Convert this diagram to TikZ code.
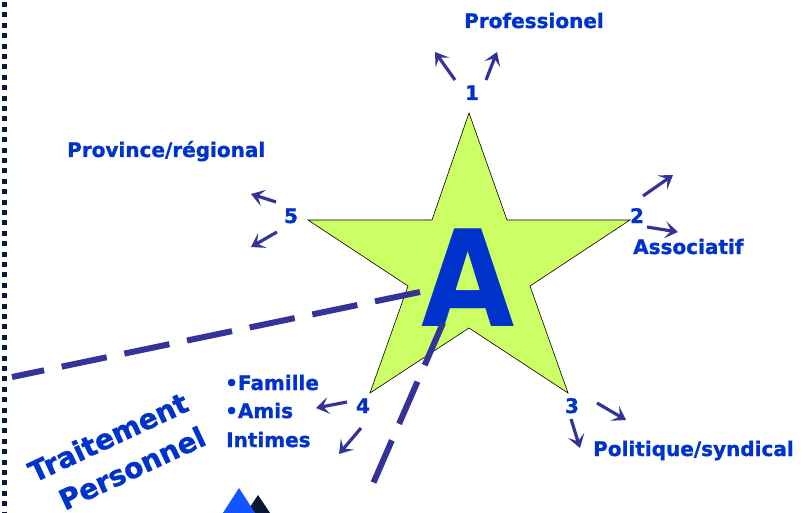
\documentclass[tikz,border=0pt]{standalone}
\usepackage{fontspec}
\setmainfont{DejaVu Sans}[BoldFeatures={FakeBold=1.2}]
\newfontfamily\bigA{DejaVu Sans}
\usetikzlibrary{arrows.meta}
\definecolor{txtblue}{HTML}{0033CC}
\definecolor{arrblue}{HTML}{333399}
\definecolor{stargreen}{HTML}{CCFF66}
\definecolor{navy}{HTML}{0A1838}
\definecolor{triblue}{HTML}{1155FF}
\begin{document}
\begin{tikzpicture}[x=1pt,y=-1pt,
 lbl/.style={text=txtblue, font=\bfseries\fontsize{20}{27}\selectfont, inner sep=0pt},
 biglbl/.style={text=txtblue, font=\bfseries\fontsize{28}{36}\selectfont, inner sep=0pt, rotate=25},
 arr/.style={draw=arrblue, line width=3.2pt, -{Stealth[length=13pt,width=17pt,inset=6pt]}},
 dashline/.style={draw=arrblue, line width=6pt, dash pattern=on 46pt off 18pt}]
\useasboundingbox (0,0) rectangle (803,513);
% left dotted border
\coordinate (bt) at (4.5,2);
\coordinate (bb) at (4.5,513);
\draw[navy, line width=5pt, dash pattern=on 5pt off 5.4pt] (bt) -- (bb);
% star
\draw[fill=stargreen, line width=0.6pt] (469,113) -- (507,220) -- (630,220) -- (530,286) -- (568,393) -- (469,328) -- (370,393) -- (408,286) -- (308,220) -- (432,220) -- cycle;
% big A
\node (A) [text=txtblue, font=\bigA\bfseries\fontsize{134}{134}\selectfont, inner sep=0pt, xscale=0.9] at (468,278) {A};
% dashed lines
\coordinate (d1a) at (420,292);
\coordinate (d1b) at (12,377);
\coordinate (d2a) at (443,323);
\coordinate (d2b) at (372,486);
\draw[dashline] (d1a) -- (d1b);
\draw[dashline] (d2a) -- (d2b);
% triangles
\fill[navy] (258,495) -- (274,519) -- (242,519) -- cycle;
\fill[triblue] (239,488) -- (259,519) -- (219,519) -- cycle;
% numbers
\node (n1) [lbl, anchor=base] at (472,100) {1};
\node (n2) [lbl, anchor=base] at (637,223) {2};
\node (n3) [lbl, anchor=base] at (572,413) {3};
\node (n4) [lbl, anchor=base] at (363,413) {4};
\node (n5) [lbl, anchor=base] at (291,223) {5};
% labels
\node (prof) [lbl, anchor=base west] at (464,28) {Professionel};
\node (prov) [lbl, anchor=base west] at (67,157) {Province/régional};
\node (asso) [lbl, anchor=base west] at (633,254) {Associatif};
\node (poli) [lbl, anchor=base west] at (593,456) {Politique/syndical};
\node (fam) [lbl, anchor=base west] at (225,390) {•Famille};
\node (ami) [lbl, anchor=base west] at (225,418) {•Amis};
\node (int) [lbl, anchor=base west] at (226,447) {Intimes};
\node (trait1) [biglbl] at (108,437) {Traitement};
\node (trait2) [biglbl] at (132,468) {Personnel};
% arrows
\coordinate (a1s) at (455,80);  \coordinate (a1e) at (435,52);
\coordinate (a1t) at (486,80);  \coordinate (a1f) at (497,52);
\coordinate (a5s) at (276,202); \coordinate (a5e) at (251,194);
\coordinate (a5t) at (277,232); \coordinate (a5f) at (251,247);
\coordinate (a2s) at (643,196); \coordinate (a2e) at (673,175);
\coordinate (a2t) at (647,227); \coordinate (a2f) at (678,232);
\coordinate (a3s) at (597,403); \coordinate (a3e) at (626,420);
\coordinate (a3t) at (571,419); \coordinate (a3f) at (580,448);
\coordinate (a4s) at (347,402); \coordinate (a4e) at (316,408);
\coordinate (a4t) at (361,428); \coordinate (a4f) at (339,454);
\draw[arr] (a1s) -- (a1e);
\draw[arr] (a1t) -- (a1f);
\draw[arr] (a5s) -- (a5e);
\draw[arr] (a5t) -- (a5f);
\draw[arr] (a2s) -- (a2e);
\draw[arr] (a2t) -- (a2f);
\draw[arr] (a3s) -- (a3e);
\draw[arr] (a3t) -- (a3f);
\draw[arr] (a4s) -- (a4e);
\draw[arr] (a4t) -- (a4f);
\end{tikzpicture}
\end{document}
